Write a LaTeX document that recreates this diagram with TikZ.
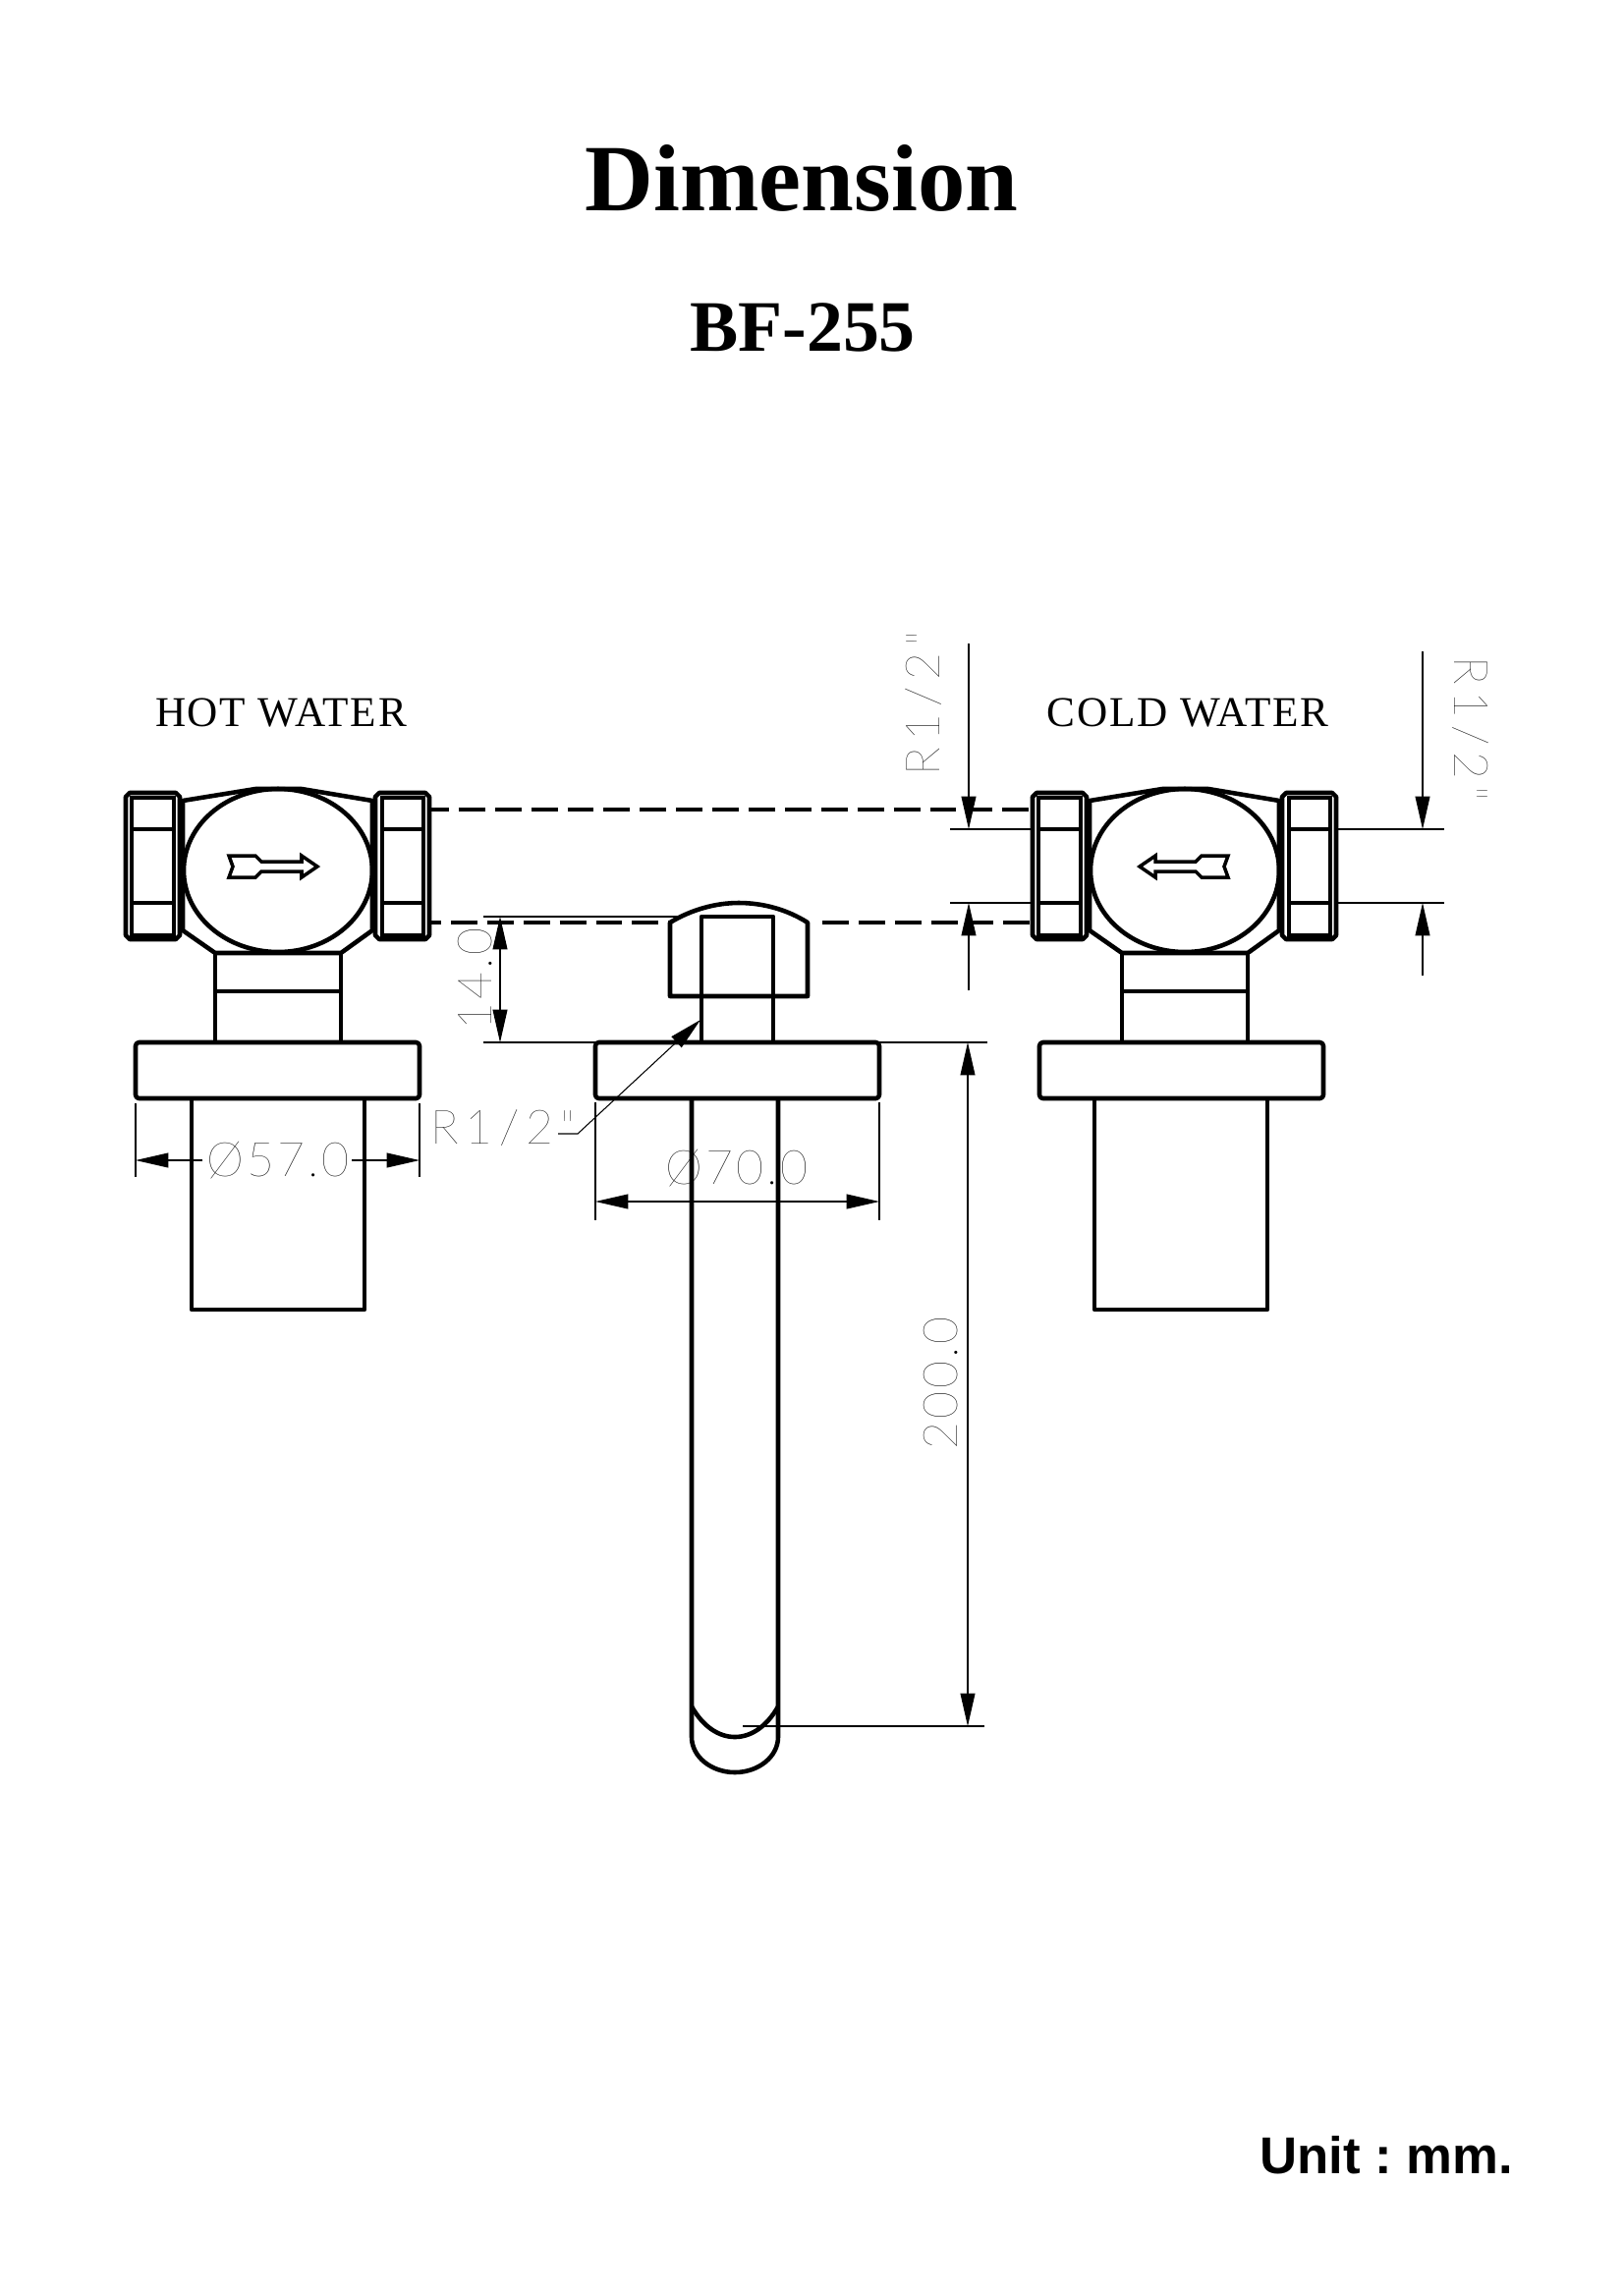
\documentclass[tikz,border=0pt]{standalone}
\usepackage{fontspec}
\setmainfont{Liberation Serif}
\newfontfamily\unitfont{Liberation Sans}
\newfontfamily\captfont{Liberation Serif}[LetterSpace=4]
\newfontfamily\dimfont{Lato Thin}[LetterSpace=6]
\newfontfamily\threadfont{Lato Thin}[LetterSpace=14]
\usepackage{tikz}
\usetikzlibrary{arrows.meta}

\tikzset{
	part/.style={line width=2.6pt, line join=round},
	nutline/.style={line width=1.8pt},
	fine/.style={line width=0.6pt},
	hidden/.style={line width=2.2pt, dash pattern=on 15.3pt off 5.7pt},
	dimtip/.style={-{Triangle[length=19pt,width=8.5pt]}},
	dimboth/.style={{Triangle[length=19pt,width=8.5pt]}-{Triangle[length=19pt,width=8.5pt]}},
	dimtext/.style={inner sep=0pt, font=\fontsize{27.5pt}{27.5pt}\dimfont},
	threadtext/.style={inner sep=0pt, font=\fontsize{27.5pt}{27.5pt}\threadfont},
	capt/.style={inner sep=0pt, font=\fontsize{24.6pt}{24.6pt}\captfont}
}

% one valve seen from the front, arrow drawn apart
\newcommand{\valvebody}{
	% nuts
	\draw[part] (128,811) -- (132,807) -- (179,807) -- (183,811) -- (183,952) -- (179,956) -- (132,956) -- (128,952) -- cycle;
	\draw[part] (382,811) -- (386,807) -- (433,807) -- (437,811) -- (437,952) -- (433,956) -- (386,956) -- (382,952) -- cycle;
	\draw[nutline] (134,812) rectangle (177,952);
	\draw[nutline] (389,812) rectangle (431,952);
	\foreach \yy in {844,919} {
		\draw[nutline] (134,\yy) -- (177,\yy);
		\draw[nutline] (389,\yy) -- (431,\yy);
	}
	% housing
	\draw[part] (186,815) -- (186,947) -- (219,970) -- (347,970) -- (379,947) -- (379,815) -- (307,803) -- (260,803) -- cycle;
	\draw[part] (283,886) ellipse [x radius=96, y radius=83];
	% neck
	\draw[part] (219,970) -- (219,1061) (347,970) -- (347,1061);
	\draw[part] (219,1009) -- (347,1009);
}
\newcommand{\flowarrow}{
	\draw[line width=2pt, line join=miter] (-50,-11) -- (-23,-11) -- (-17,-5) -- (24,-5) -- (24,-11) -- (40,0) -- (24,11) -- (24,5) -- (-17,5) -- (-23,11) -- (-50,11) -- (-46,0) -- cycle;
}

\begin{document}
\frenchspacing
\begin{tikzpicture}[x=0.02cm,y=-0.02cm]
	\useasboundingbox (0,0) rectangle (1653,2337);

	\node (title) at (816,214) [anchor=base, inner sep=0pt, font=\fontsize{55pt}{55pt}\bfseries\selectfont] {Dimension};
	\node (model) at (817,357) [anchor=base, inner sep=0pt, font=\fontsize{42pt}{42pt}\bfseries\selectfont] {BF-255};
	\node (unit) at (1411,2212) [anchor=base, inner sep=0pt, font=\fontsize{30pt}{30pt}\unitfont\bfseries\selectfont] {Unit : mm.};
	\node (hot) at (286,739) [anchor=base, capt] {HOT WATER};
	\node (cold) at (1209,739) [anchor=base, capt] {COLD WATER};

	% valves
	\valvebody
	\begin{scope}[xshift=923*0.02cm]
		\valvebody
	\end{scope}
	\begin{scope}[shift={(283,882)}]
		\flowarrow
	\end{scope}
	\begin{scope}[shift={(1200,882)}, xscale=-1]
		\flowarrow
	\end{scope}

	% wall plates and sleeves
	\draw[part, rounded corners=2pt] (138,1061) rectangle (427,1118);
	\draw[part] (195,1118) -- (195,1333) -- (371,1333) -- (371,1118);
	\draw[part, rounded corners=2pt] (1058,1061) rectangle (1347,1118);
	\draw[part] (1114,1118) -- (1114,1333) -- (1290,1333) -- (1290,1118);

	% spout
	\draw[part] (682,939) .. controls (705,925) and (730,919) .. (752,919) .. controls (775,919) and (800,925) .. (822,939) -- (822,1014) -- (682,1014) -- cycle;
	\draw[part] (714,1061) -- (714,933) -- (787,933) -- (787,1061);
	\draw[part, rounded corners=2pt] (606,1061) rectangle (895,1118);
	\draw[part] (704,1118) -- (704,1768) .. controls (704,1788) and (724,1804) .. (748,1804) .. controls (772,1804) and (792,1788) .. (792,1768) -- (792,1118);
	\draw[part] (704,1737) .. controls (716,1758) and (732,1768) .. (748,1768) .. controls (764,1768) and (780,1758) .. (792,1737);

	% hidden lines between the valves
	\draw[hidden, line width=1.8pt, dash phase=4pt] (437,824) -- (1051,824);
	\draw[hidden, dash phase=8.5pt] (437,939) -- (682,939);
	\draw[hidden] (837,939) -- (1051,939);

	% 14.0
	\draw[fine] (492,933) -- (690,933);
	\draw[fine] (492,1061) -- (606,1061);
	\draw[fine, dimboth] (509,933) -- (509,1061);
	\node (dimstem) at (484,996) [dimtext, rotate=90] {14.0};

	% 57.0
	\draw[fine] (138,1123) -- (138,1198);
	\draw[fine] (427,1123) -- (427,1198);
	\draw[fine, dimtip] (206,1181) -- (138,1181);
	\draw[fine, dimtip] (358,1181) -- (427,1181);
	\node (dimplate) at (283,1181) [dimtext] {Ø57.0};

	% 70.0
	\draw[fine] (606,1122) -- (606,1242);
	\draw[fine] (895,1122) -- (895,1242);
	\draw[fine, dimboth] (606,1223) -- (895,1223);
	\node (dimflange) at (750,1189) [dimtext] {Ø70.0};

	% 200.0
	\draw[fine] (895,1061) -- (1005,1061);
	\draw[fine] (756,1757) -- (1002,1757);
	\draw[fine, dimboth] (985,1061) -- (985,1757);
	\node (dimlength) at (958,1408) [dimtext, rotate=90] {200.0};

	% thread, spout
	\node (threadspout) at (512,1148) [threadtext] {R1/2"};
	\draw[fine, dimtip] (568,1154) -- (588,1154) -- (713,1038);

	% thread, valves
	\draw[fine] (967,844) -- (1051,844);
	\draw[fine] (967,919) -- (1051,919);
	\draw[fine, dimtip] (986,655) -- (986,844);
	\draw[fine, dimtip] (986,1008) -- (986,919);
	\node (threadleft) at (940,716) [threadtext, rotate=90] {R1/2"};
	\draw[fine] (1360,844) -- (1470,844);
	\draw[fine] (1360,919) -- (1470,919);
	\draw[fine, dimtip] (1448,663) -- (1448,844);
	\draw[fine, dimtip] (1448,993) -- (1448,919);
	\node (threadright) at (1497,742) [threadtext, rotate=-90] {R1/2"};
\end{tikzpicture}
\end{document}
